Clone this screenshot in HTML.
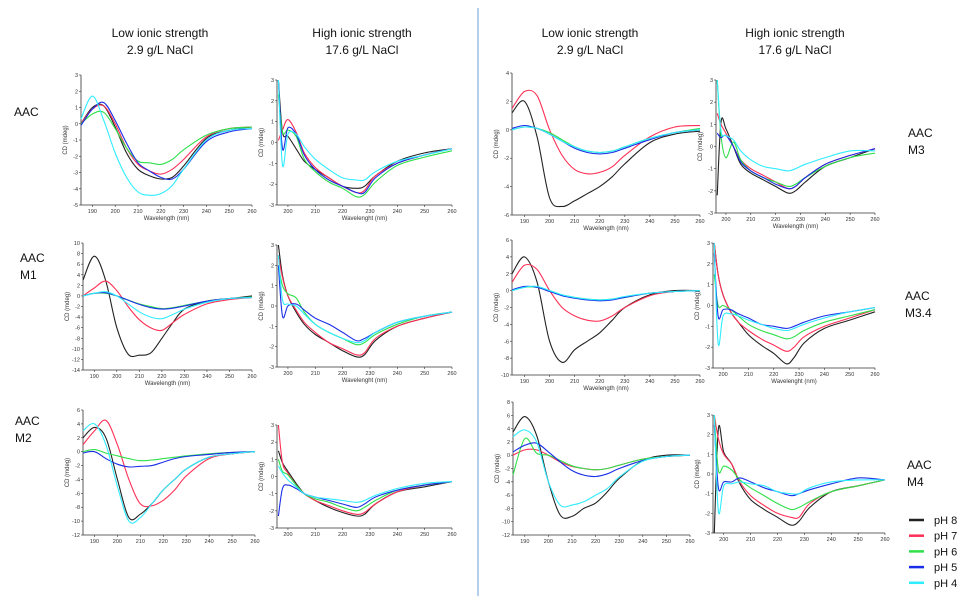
<!DOCTYPE html>
<html><head><meta charset="utf-8"><style>
body{margin:0;background:#fff;}
svg{display:block;font-family:"Liberation Sans",sans-serif;}
.t{font-family:"Liberation Sans",sans-serif;font-size:12px;fill:#111;}
.tk{font-size:5.5px;fill:#333;}
.al{font-size:6px;fill:#333;}
</style></head><body>
<svg id="fig" width="960" height="603" viewBox="0 0 960 603">
<line x1="478" y1="8" x2="478" y2="596" stroke="#6a9fd4" stroke-width="1"/>
<g>
<text class="t" x="160" y="37" text-anchor="middle">Low ionic strength</text>
<text class="t" x="160" y="54" text-anchor="middle">2.9 g/L NaCl</text>
<text class="t" x="362" y="37" text-anchor="middle">High ionic strength</text>
<text class="t" x="362" y="54" text-anchor="middle">17.6 g/L NaCl</text>
<text class="t" x="590" y="37" text-anchor="middle">Low ionic strength</text>
<text class="t" x="590" y="54" text-anchor="middle">2.9 g/L NaCl</text>
<text class="t" x="795" y="37" text-anchor="middle">High ionic strength</text>
<text class="t" x="795" y="54" text-anchor="middle">17.6 g/L NaCl</text>
</g>
<g>
<text class="t" x="14" y="116">AAC</text>
<text class="t" x="20" y="262">AAC</text>
<text class="t" x="20" y="279">M1</text>
<text class="t" x="15" y="425">AAC</text>
<text class="t" x="15" y="442">M2</text>
<text class="t" x="908" y="137">AAC</text>
<text class="t" x="908" y="154">M3</text>
<text class="t" x="905" y="300">AAC</text>
<text class="t" x="905" y="317">M3.4</text>
<text class="t" x="907" y="469">AAC</text>
<text class="t" x="907" y="486">M4</text>
</g>
<g id="legend"></g>
<g id="panels"></g>
</svg>
<script>
const seriesNames=["pH 8","pH 7","pH 6","pH 5","pH 4"];
const seriesColors=["#222222","#ff2f55","#2fe04a","#1a2ee8","#30ecff"];
const wlLow=[185,190,195,200,205,210,215,220,225,230,240,250,260];
const wlHigh=[196.5,198,200,203,206,210,215,220,225,228,232,240,250,260];
const xTicksLow=[190,200,210,220,230,240,250,260];
const xTicksHigh=[200,210,220,230,240,250,260];
// panel values: pH8, pH7, pH6, pH5, pH4
const p1=[[0,1.0,1.1,-0.2,-1.8,-2.8,-3.2,-3.4,-3.3,-2.6,-0.9,-0.4,-0.2],[0,0.9,1.1,0,-1.5,-2.5,-2.9,-3.1,-2.8,-2.2,-0.8,-0.3,-0.2],[0,0.6,0.7,-0.3,-1.5,-2.3,-2.4,-2.5,-2.2,-1.6,-0.7,-0.3,-0.2],[-0.1,0.9,1.3,0.2,-1.2,-2.4,-2.9,-3.3,-3.4,-2.8,-1.1,-0.5,-0.3],[0.3,1.7,0.2,-1.8,-3.3,-4.2,-4.4,-4.3,-3.8,-2.8,-1.0,-0.4,-0.3]];
const p2=[[3,0.5,0.3,-0.3,-0.9,-1.3,-1.7,-2.1,-2.2,-2.1,-1.6,-0.9,-0.5,-0.3],[0.1,0.6,1.1,0.5,-0.5,-1.2,-1.7,-2.1,-2.4,-2.3,-1.6,-1.0,-0.6,-0.3],[2.3,0.5,0.6,0.3,-0.8,-1.4,-1.9,-2.2,-2.6,-2.5,-1.9,-1.1,-0.7,-0.4],[3,-0.3,0.7,0.4,-0.6,-1.3,-1.8,-2.1,-2.4,-2.4,-1.7,-1.0,-0.6,-0.3],[3,-1.1,0.4,0.4,-0.2,-0.8,-1.3,-1.7,-1.8,-1.8,-1.4,-0.9,-0.6,-0.3]];
const p3=[[1.2,2.0,-0.5,-4.8,-5.4,-5.0,-4.5,-4.0,-3.3,-2.4,-0.9,-0.3,-0.1],[1.5,2.7,2.4,0,-1.8,-2.8,-3.1,-3.0,-2.6,-1.8,-0.5,0.2,0.3],[0,0.2,0.1,-0.2,-0.7,-1.2,-1.5,-1.6,-1.5,-1.2,-0.6,-0.2,0.1],[0.1,0.3,0.1,-0.3,-0.8,-1.3,-1.6,-1.7,-1.6,-1.3,-0.7,-0.2,0],[0,0.2,0.1,-0.3,-0.8,-1.2,-1.5,-1.6,-1.5,-1.2,-0.6,-0.2,0]];
const p4=[[-2.2,1.1,0.8,0,-0.8,-1.2,-1.5,-1.8,-2.1,-2.0,-1.6,-0.9,-0.5,-0.1],[1.5,1,0.6,0,-0.6,-1.0,-1.3,-1.6,-1.9,-1.8,-1.4,-0.8,-0.4,-0.1],[3,0.5,-0.5,0.2,-0.6,-1.1,-1.4,-1.6,-1.8,-1.7,-1.4,-0.9,-0.5,-0.3],[0.6,0.4,0.5,0,-0.7,-1.1,-1.4,-1.7,-1.9,-1.8,-1.4,-0.8,-0.4,-0.1],[3,0.7,0.5,0.3,-0.2,-0.6,-0.9,-1.0,-1.1,-1.0,-0.8,-0.5,-0.2,-0.2]];
const p5=[[3,7.5,3,-6,-11,-11.2,-10.8,-8,-5,-2.5,-1,-0.5,0],[0,1.5,2.8,1,-2,-4.5,-6,-6.5,-5,-3.5,-1.5,-0.7,-0.3],[0,0.5,0.5,0,-0.8,-1.5,-2,-2.4,-2.2,-1.8,-1,-0.5,-0.2],[0,0.5,0.6,0,-0.8,-1.6,-2.2,-2.5,-2.3,-1.9,-1.0,-0.5,-0.3],[0,0.5,0.8,0,-1.5,-3,-4,-4.3,-3.5,-2.5,-1.2,-0.5,-0.3]];
const p6=[[3,1.5,0.5,-0.3,-0.9,-1.4,-1.8,-2.2,-2.5,-2.4,-1.7,-1.0,-0.6,-0.3],[2.5,1.4,0.5,-0.2,-0.8,-1.3,-1.8,-2.1,-2.4,-2.3,-1.6,-1.0,-0.6,-0.3],[2,1,0.6,0.4,-0.3,-0.9,-1.3,-1.6,-1.9,-1.8,-1.4,-0.9,-0.5,-0.3],[2,-0.5,0,0.1,-0.2,-0.6,-0.9,-1.3,-1.7,-1.6,-1.3,-0.8,-0.5,-0.3],[2.5,0.3,0.1,0,-0.4,-0.9,-1.3,-1.6,-1.8,-1.7,-1.3,-0.8,-0.5,-0.3]];
const p7=[[2,4,1,-6,-8.5,-7,-6,-5,-3.5,-2,-0.5,0,0],[1,3,2.5,0,-2,-3,-3.5,-3.6,-3,-2,-0.6,-0.1,0],[0,0.4,0.4,0,-0.5,-0.8,-1,-1.1,-1,-0.8,-0.3,-0.1,0],[0.1,0.5,0.4,-0.1,-0.6,-0.9,-1.1,-1.2,-1.1,-0.8,-0.3,-0.1,0],[0,0.4,0.5,0,-0.5,-0.8,-1,-1.1,-1,-0.7,-0.3,-0.1,0]];
const p8=[[3,1.5,0.5,-0.3,-0.8,-1.4,-1.9,-2.3,-2.8,-2.5,-1.8,-1.1,-0.7,-0.3],[3,1.5,0.5,-0.3,-0.8,-1.2,-1.6,-1.9,-2.2,-2.0,-1.5,-1.0,-0.6,-0.2],[1.5,0,0,-0.2,-0.5,-0.9,-1.2,-1.4,-1.6,-1.5,-1.2,-0.8,-0.5,-0.2],[2.5,-0.5,-0.2,-0.2,-0.4,-0.6,-0.9,-1.0,-1.1,-1.0,-0.8,-0.5,-0.3,-0.1],[3,-1.8,-0.5,-0.4,-0.5,-0.7,-0.9,-1.1,-1.2,-1.1,-0.9,-0.6,-0.3,-0.1]];
const p9=[[2,3.5,2,-4,-9.5,-9,-7.5,-5.5,-4,-2.5,-0.8,-0.3,0],[1,3,4.5,1,-4,-7.5,-7.8,-7,-5.5,-3.5,-1,-0.3,0],[0,0.3,-0.2,-0.6,-1,-1.3,-1.2,-1,-0.8,-0.6,-0.3,-0.1,0],[-0.2,0,-1,-1.8,-2.2,-2.1,-2,-1.5,-1,-0.7,-0.4,-0.1,0],[3,4,1,-5,-10,-9.5,-7.5,-5.5,-4,-2.5,-0.8,-0.3,0]];
const p10=[[1.5,0.8,0.3,-0.4,-1.0,-1.4,-1.8,-2.1,-2.3,-2.2,-1.6,-0.9,-0.6,-0.3],[3,0.8,0.2,-0.5,-1.0,-1.4,-1.7,-2.0,-2.2,-2.1,-1.6,-0.9,-0.5,-0.3],[1,0.3,0.1,-0.5,-1.0,-1.3,-1.5,-1.8,-2.0,-1.8,-1.4,-0.8,-0.5,-0.3],[-2.3,-0.7,-0.5,-0.7,-1,-1.2,-1.4,-1.6,-1.8,-1.6,-1.2,-0.8,-0.5,-0.3],[0.6,0.2,-0.2,-0.6,-1,-1.2,-1.3,-1.4,-1.5,-1.4,-1.1,-0.7,-0.4,-0.3]];
const p11=[[3.5,5.8,3,-4,-9,-9.2,-8,-7.2,-5.5,-3.5,-0.8,0,0],[0,0.8,0.8,0,-1,-1.7,-2,-2.2,-2,-1.5,-0.6,-0.2,0],[-3,2.5,0.3,0,-0.8,-1.6,-2,-2.2,-2,-1.5,-0.6,-0.2,0],[0.5,1.5,1.8,0.5,-1,-2.3,-3,-3.2,-2.8,-2,-0.8,-0.2,0],[2.8,3.8,2,-4,-7.5,-7.5,-7,-6,-5,-3.3,-0.9,-0.2,0]];
const p12=[[-3,2.3,1.1,0.5,-0.5,-1.3,-1.8,-2.2,-2.6,-2.4,-1.7,-0.9,-0.6,-0.3],[3,1.8,1,0.5,-0.4,-1.1,-1.6,-2.0,-2.2,-2.2,-1.5,-0.9,-0.6,-0.3],[3,0.2,0.4,0.2,-0.3,-0.7,-1.1,-1.5,-1.8,-1.7,-1.4,-0.9,-0.6,-0.3],[2.5,-0.7,-0.4,-0.4,-0.2,-0.4,-0.7,-0.9,-1.1,-1.0,-0.8,-0.5,-0.2,-0.3],[3,-1.9,-0.6,-0.5,-0.4,-0.5,-0.6,-0.9,-1.0,-1.0,-0.7,-0.4,-0.3,-0.3]];

const NS="http://www.w3.org/2000/svg";
function mk(t,a,p){const e=document.createElementNS(NS,t);for(const k in a)e.setAttribute(k,a[k]);p.appendChild(e);return e;}
const root=document.getElementById('panels');
const layout=[
 {id:'aac-low',d:p1,wl:wlLow,xt:xTicksLow,x0:81,x1:252,y0:75,y1:205,xmin:185,xmax:260,ymin:-5,ymax:3,st:1,xl:'Wavelength (nm)'},
 {id:'aac-high',d:p2,wl:wlHigh,xt:xTicksHigh,x0:277,x1:452,y0:80,y1:205,xmin:196,xmax:260,ymin:-3,ymax:3,st:1,xl:'Wavelenght (nm)'},
 {id:'m3-low',d:p3,wl:wlLow,xt:xTicksLow,x0:512,x1:700,y0:73,y1:215,xmin:185,xmax:260,ymin:-6,ymax:4,st:2,xl:'Wavelength (nm)'},
 {id:'m3-high',d:p4,wl:wlHigh,xt:xTicksHigh,x0:716,x1:875,y0:80,y1:213,xmin:196,xmax:260,ymin:-3,ymax:3,st:1,xl:'Wavelength (nm)'},
 {id:'m1-low',d:p5,wl:wlLow,xt:xTicksLow,x0:83,x1:252,y0:243,y1:370,xmin:185,xmax:260,ymin:-14,ymax:10,st:2,xl:'Wavelength (nm)'},
 {id:'m1-high',d:p6,wl:wlHigh,xt:xTicksHigh,x0:277,x1:452,y0:245,y1:367,xmin:196,xmax:260,ymin:-3,ymax:3,st:1,xl:'Wavelenght (nm)'},
 {id:'m34-low',d:p7,wl:wlLow,xt:xTicksLow,x0:512,x1:700,y0:240,y1:375,xmin:185,xmax:260,ymin:-10,ymax:6,st:2,xl:'Wavelength (nm)'},
 {id:'m34-high',d:p8,wl:wlHigh,xt:xTicksHigh,x0:713,x1:875,y0:243,y1:368,xmin:196,xmax:260,ymin:-3,ymax:3,st:1,xl:'Wavelenght (nm)'},
 {id:'m2-low',d:p9,wl:wlLow,xt:xTicksLow,x0:83,x1:255,y0:410,y1:535,xmin:185,xmax:260,ymin:-12,ymax:6,st:2,xl:''},
 {id:'m2-high',d:p10,wl:wlHigh,xt:xTicksHigh,x0:277,x1:452,y0:425,y1:528,xmin:196,xmax:260,ymin:-3,ymax:3,st:1,xl:''},
 {id:'m4-low',d:p11,wl:wlLow,xt:xTicksLow,x0:513,x1:690,y0:402,y1:535,xmin:185,xmax:260,ymin:-12,ymax:8,st:2,xl:''},
 {id:'m4-high',d:p12,wl:wlHigh,xt:xTicksHigh,x0:713,x1:885,y0:415,y1:533,xmin:196,xmax:260,ymin:-3,ymax:3,st:1,xl:''}
];
function smooth(pts){let s='M'+pts[0][0].toFixed(1)+','+pts[0][1].toFixed(1);
 for(let i=0;i<pts.length-1;i++){const p0=pts[i-1]||pts[i],p1=pts[i],p2=pts[i+1],p3=pts[i+2]||p2;
  const c1=[p1[0]+(p2[0]-p0[0])/6,p1[1]+(p2[1]-p0[1])/6],c2=[p2[0]-(p3[0]-p1[0])/6,p2[1]-(p3[1]-p1[1])/6];
  s+=' C'+c1.map(v=>v.toFixed(1))+' '+c2.map(v=>v.toFixed(1))+' '+p2[0].toFixed(1)+','+p2[1].toFixed(1);}
 return s;}
layout.forEach(P=>{
 const g=mk('g',{},root);
 
 
 const sx=v=>P.x0+(v-P.xmin)/(P.xmax-P.xmin)*(P.x1-P.x0);
 const sy=v=>P.y1-(v-P.ymin)/(P.ymax-P.ymin)*(P.y1-P.y0);
 const ax=mk('path',{d:`M${P.x0},${P.y0} V${P.y1} H${P.x1}`,fill:'none',stroke:'#333','stroke-width':0.8},g);
 
 
 for(let v=P.ymin;v<=P.ymax;v+=P.st){const y=sy(v);
  mk('line',{x1:P.x0-2,x2:P.x0,y1:y,y2:y,stroke:'#333','stroke-width':0.6},g);
  const t=mk('text',{x:P.x0-3,y:y+2,'text-anchor':'end',class:'tk'},g);t.textContent=v;
  
  }
 P.xt.forEach(v=>{const x=sx(v);
  mk('line',{x1:x,x2:x,y1:P.y1,y2:P.y1+2,stroke:'#333','stroke-width':0.6},g);
  const t=mk('text',{x:x,y:P.y1+8,'text-anchor':'middle',class:'tk'},g);t.textContent=v;
  
  });
 const yl=mk('text',{x:P.x0-14,y:(P.y0+P.y1)/2,'text-anchor':'middle',class:'al',transform:`rotate(-90 ${P.x0-14} ${(P.y0+P.y1)/2})`},g);
 yl.textContent='CD (mdeg)';
 
 
 if(P.xl){const xl=mk('text',{x:(P.x0+P.x1)/2,y:P.y1+15,'text-anchor':'middle',class:'al'},g);xl.textContent=P.xl;
  
  }
 P.d.forEach((vals,si)=>{const pts=vals.map((v,i)=>[sx(P.wl[i]),sy(Math.max(P.ymin,Math.min(P.ymax,v)))]);
  const ln=mk('path',{d:smooth(pts),fill:'none',stroke:seriesColors[si],'stroke-width':1.1},g);
  
  });
});
const lg=document.getElementById('legend');
seriesNames.forEach((n,i)=>{const y=520+i*15.7;
 const l=mk('line',{x1:909,x2:924,y1:y,y2:y,stroke:seriesColors[i],'stroke-width':2.5},lg);
 
 
 const t=mk('text',{x:934,y:y+4,class:'t',style:'font-size:11px'},lg);t.textContent=n;
 
 });
</script>
</body></html>
